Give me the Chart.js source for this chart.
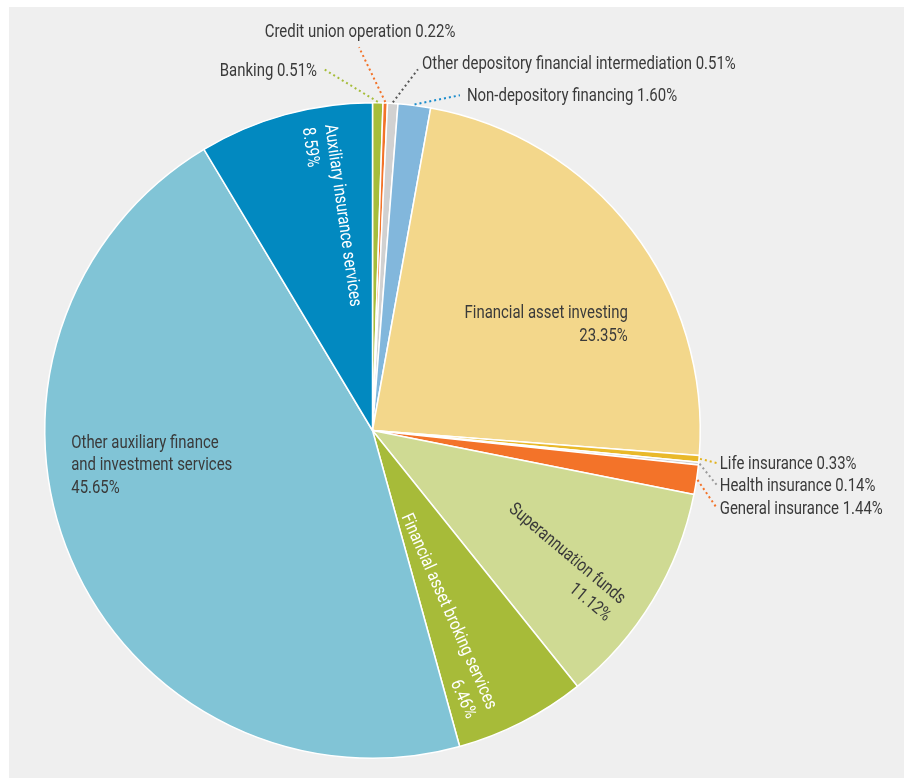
<!DOCTYPE html>
<html>
<head>
<meta charset="utf-8">
<script src="https://cdn.jsdelivr.net/npm/chart.js@4/dist/chart.umd.min.js"></script>
<style>
  html, body { margin: 0; padding: 0; background: #ffffff; }
  canvas { display: block; }
</style>
</head>
<body>
<canvas id="pie" width="906" height="778"></canvas>
<script>
// Share of the finance industry by sub-sector (%)
const categories = [
  'Banking',
  'Credit union operation',
  'Other depository financial intermediation',
  'Non-depository financing',
  'Financial asset investing',
  'Life insurance',
  'Health insurance',
  'General insurance',
  'Superannuation funds',
  'Financial asset broking services',
  ['Other auxiliary finance', 'and investment services'],
  'Auxiliary insurance services'
];
const shares = [0.51, 0.22, 0.51, 1.60, 23.35, 0.33, 0.14, 1.44, 11.12, 6.46, 45.65, 8.59];

const sliceColours = [
  '#a6bd3b', '#f37329', '#d1d1d1', '#82b7dc', '#f3d78b', '#e9b92a',
  '#d1d1d1', '#f37329', '#cfda93', '#a7bb39', '#81c4d6', '#0289c0'
];
const leaderColours = [
  '#a6bd3b', '#f37329', '#555555', '#1a8ccc', null, '#e2b21e',
  '#9a9a9a', '#f37329', null, null, null, null
];

// Text style
const FONT_SIZE = 18;
const FONT = '400 ' + FONT_SIZE + 'px Roboto, "Liberation Sans", sans-serif';
const SQUEEZE = 0.83;   // horizontal condensing of label text
const LINE_H = 22.5;
const TEXT_DROP = 1.5;  // nudges 'middle' baseline down to centre the capitals
const DARK = '#3a3a3a';

// Labels placed inside their slices (offsets from pie centre, in px at r = 328)
const insideLabels = [
  { index: 4,  dx: 255.5,  dy: -118.5, rot: 0,  align: 'right', color: DARK },
  { index: 8,  dx: 251.5,  dy: 169.5,  rot: 40, align: 'right', color: DARK },
  { index: 9,  dx: 120.5,  dy: 277.5,  rot: 66, align: 'right', color: '#ffffff' },
  { index: 10, dx: -301.5, dy: 11.5,   rot: 0,  align: 'left',  color: DARK },
  { index: 11, dx: -41.5,  dy: -306.5, rot: 82, align: 'left',  color: '#ffffff' }
];

// Labels outside the pie with dotted leader lines (text anchor and leader end)
const outsideLabels = [
  { index: 0, tx: -55.5, ty: -360.5, align: 'right',  lx: -48.5, ly: -361.5 },
  { index: 1, tx: -12.5, ty: -399.5, align: 'center', lx: -13.5, ly: -383.5 },
  { index: 2, tx: 49.5,  ty: -367.5, align: 'left',   lx: 45.5,  ly: -361.5 },
  { index: 3, tx: 94.5,  ty: -335.5, align: 'left',   lx: 87.5,  ly: -335.5 },
  { index: 5, tx: 347.5, ty: 32.5,   align: 'left',   lx: 344.5, ly: 32.5 },
  { index: 6, tx: 347.5, ty: 54.5,   align: 'left',   lx: 344.5, ly: 54.5 },
  { index: 7, tx: 347.5, ty: 77.5,   align: 'left',   lx: 344.5, ly: 77.5 }
];

const fmt = v => v.toFixed(2) + '%';
const nameLines = i => Array.isArray(categories[i]) ? categories[i].slice() : [categories[i]];

function drawLines(ctx, lines, x, y, rotDeg, align, color) {
  ctx.save();
  ctx.translate(x, y);
  ctx.rotate(rotDeg * Math.PI / 180);
  ctx.scale(SQUEEZE, 1);
  ctx.font = FONT;
  ctx.fillStyle = color;
  ctx.textAlign = align;
  ctx.textBaseline = 'middle';
  lines.forEach((t, j) => ctx.fillText(t, 0, j * LINE_H + TEXT_DROP));
  ctx.restore();
}

const panelBackground = {
  id: 'panelBackground',
  beforeDraw(chart) {
    const ctx = chart.ctx;
    ctx.save();
    ctx.fillStyle = '#ffffff';
    ctx.fillRect(0, 0, chart.width, chart.height);
    ctx.fillStyle = '#efefef';
    ctx.fillRect(9, 7, chart.width - 11, chart.height - 7);
    ctx.restore();
  }
};

const sliceLabels = {
  id: 'sliceLabels',
  afterDatasetsDraw(chart) {
    const ctx = chart.ctx;
    const meta = chart.getDatasetMeta(0);
    const ds = chart.data.datasets[0].data;
    const first = meta.data[0].getProps(['x', 'y', 'outerRadius'], true);
    const cx = first.x, cy = first.y, k = first.outerRadius / 328;

    insideLabels.forEach(l => {
      const lines = nameLines(l.index).concat([fmt(ds[l.index])]);
      drawLines(ctx, lines, cx + l.dx * k, cy + l.dy * k, l.rot, l.align, l.color);
    });

    outsideLabels.forEach(l => {
      const arc = meta.data[l.index].getProps(['startAngle', 'endAngle', 'outerRadius'], true);
      const mid = (arc.startAngle + arc.endAngle) / 2;
      const r = arc.outerRadius + 1;
      const sx = cx + Math.cos(mid) * r, sy = cy + Math.sin(mid) * r;
      ctx.save();
      ctx.strokeStyle = leaderColours[l.index];
      ctx.lineWidth = 2;
      ctx.setLineDash([2, 3]);
      ctx.beginPath();
      ctx.moveTo(sx, sy);
      ctx.lineTo(cx + l.lx * k, cy + l.ly * k);
      ctx.stroke();
      ctx.restore();
      const text = nameLines(l.index).join(' ') + ' ' + fmt(ds[l.index]);
      drawLines(ctx, [text], cx + l.tx * k, cy + l.ty * k, 0, l.align, DARK);
    });
  }
};

new Chart(document.getElementById('pie'), {
  type: 'pie',
  data: {
    labels: categories,
    datasets: [{
      data: shares,
      backgroundColor: sliceColours,
      borderColor: '#ffffff',
      borderWidth: 1.5
    }]
  },
  options: {
    responsive: false,
    animation: false,
    devicePixelRatio: 1,
    layout: { padding: { top: 102, bottom: 19, left: 44, right: 205 } },
    plugins: {
      legend: { display: false },
      tooltip: { enabled: false }
    }
  },
  plugins: [panelBackground, sliceLabels]
});
</script>
</body>
</html>
